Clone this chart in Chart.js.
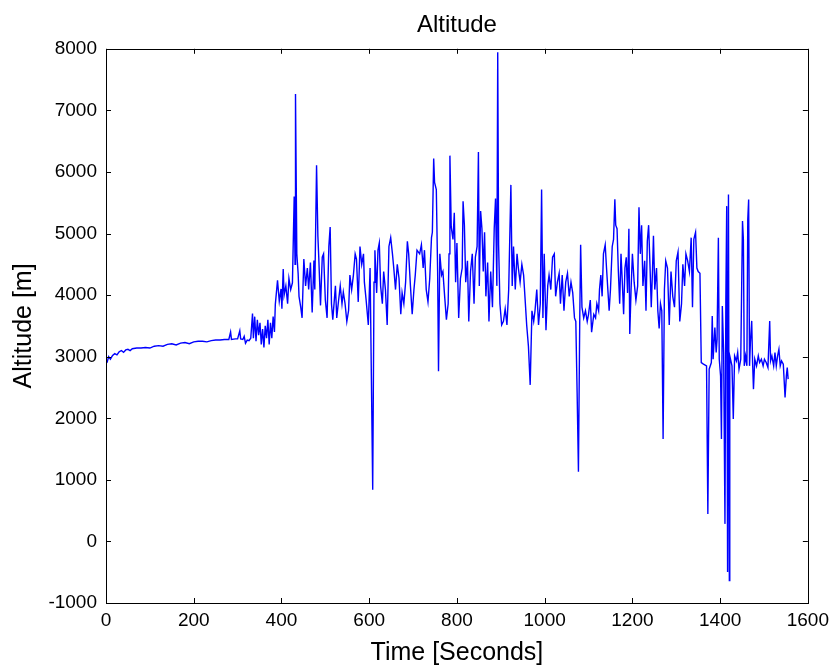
<!DOCTYPE html>
<html lang="en">
  <head>
    <title>Altitude</title>
    <meta charset="utf-8" />
    <script src="https://cdn.jsdelivr.net/npm/chart.js@4.4.9/dist/chart.umd.min.js"></script>
  </head>

  <body style="padding: 0; margin: 0; background: #fff">
    <div style="width: 835px; height: 671px">
      <canvas id="altChart"></canvas>
    </div>

    <script>
      // time stamps [s] and altitude samples [m]
      const times = [
        0, 3, 6, 10, 15, 20, 25, 30, 35, 40, 45, 50, 55, 60, 70, 80, 90, 100, 110, 120,
        130, 140, 150, 160, 170, 180, 190, 200, 210, 220, 230, 240, 250, 260, 270, 280,
        284, 286, 295, 300, 305, 307, 312, 315, 318, 322, 326, 330, 334, 336, 339, 342,
        345, 348, 351, 354, 357, 360, 363, 366, 369, 372, 375, 378, 381, 384, 386,
        391, 395, 399, 401, 404, 406, 410, 414, 417, 421, 425, 429, 431, 432, 435, 438,
        440, 444, 447, 451, 455, 459, 462, 466, 470, 474, 476, 480, 483, 485, 489, 493,
        496, 500, 504, 508, 511, 514, 517, 523, 526, 530, 534, 538, 541, 545, 549, 553,
        556, 560, 564, 568, 571, 575, 579, 583, 587, 589, 593, 598, 602, 605, 608, 611,
        613, 617, 620, 623, 626, 630, 633, 637, 641, 645, 649, 653, 656, 660, 664, 668,
        672, 675, 679, 683, 687, 690, 694, 698, 702, 705, 709,
        715, 719, 723, 726, 730, 734, 738, 742, 744, 747, 749, 753, 756, 758, 761, 765,
        768, 772, 776, 780, 782, 784, 787, 791, 794, 797, 800, 804, 808, 812, 814, 817,
        820, 824, 827, 831, 835, 839, 842, 846, 849, 851, 854, 857, 860, 863, 866, 870,
        873, 877, 881, 885, 888, 891, 893, 895, 898, 902, 906, 910, 914, 918, 923, 926,
        929, 933, 937, 940, 944, 948, 952, 955, 959, 963, 967, 971, 975, 978, 982, 986,
        990, 993, 996, 999, 1003, 1007, 1010, 1014, 1018, 1022, 1025, 1029, 1033, 1036,
        1040, 1044, 1048, 1052, 1056, 1060, 1064, 1068, 1071, 1074, 1077, 1080, 1082,
        1085, 1089, 1093, 1097, 1100, 1104, 1107, 1112, 1116, 1119, 1123,
        1125, 1128, 1131, 1134, 1138, 1141, 1144, 1147, 1150, 1154, 1157, 1160, 1162,
        1165, 1168, 1171, 1174, 1177, 1180, 1183, 1186, 1189, 1192, 1194, 1197, 1200,
        1204, 1208, 1212, 1215, 1218, 1221, 1224, 1228, 1231, 1234, 1237, 1240, 1243,
        1246, 1248, 1251, 1255, 1258, 1261, 1264, 1267, 1270, 1273, 1276, 1280, 1284,
        1288, 1292, 1296, 1300, 1304, 1308, 1312, 1315, 1319, 1322, 1326, 1330, 1334,
        1337, 1340, 1344, 1347, 1350, 1354,
        1357, 1362, 1369, 1372, 1375, 1380, 1382, 1384, 1388, 1391, 1393, 1396, 1398,
        1401, 1403, 1405, 1408, 1411, 1413, 1415, 1417, 1419, 1421, 1422, 1427, 1430,
        1433, 1437, 1440, 1443, 1447, 1451, 1453, 1455, 1458, 1461, 1463, 1465, 1467,
        1469, 1472, 1474, 1476, 1479, 1483, 1487, 1490, 1494, 1498, 1501, 1505, 1509,
        1513, 1515, 1518, 1522, 1525, 1528, 1531, 1534, 1537, 1540, 1544, 1546, 1548,
        1551, 1553, 1555,
      ];
      const altitudes = [
        2950, 2920, 3000, 2960, 3020, 3050, 3030, 3080, 3100, 3070, 3110, 3120, 3100, 3130, 3140, 3140, 3150, 3140, 3170, 3180,
        3170, 3200, 3210, 3190, 3220, 3230, 3210, 3240, 3250, 3250, 3240, 3260, 3270, 3270, 3280, 3280,
        3400, 3280, 3290, 3290, 3420, 3290, 3280, 3330, 3220, 3270, 3260, 3300, 3700, 3300, 3650, 3250,
        3600, 3350, 3550, 3200, 3450, 3150, 3500, 3300, 3600, 3200, 3550, 3300, 3650, 3400, 3850,
        4240, 3900, 4100, 3780, 4424, 4000, 4150, 3860, 4270, 4090, 4200, 5600, 4500, 7266, 4670, 4350,
        3980, 3800, 3630, 4586, 4150, 4440, 4090, 4530, 3718, 4560, 4090, 6108, 4960, 4615, 3833, 4615,
        4670, 3920, 3630, 4790, 5107, 3860, 3600, 4150, 3630, 3900, 4150, 3860, 4050, 3860, 3570, 3750,
        4325, 4090, 4325, 4670, 4586, 3890, 4790, 4500, 4670, 4210, 3920, 3515, 4440, 2646, 840, 4210,
        4730, 4036, 4730, 4846, 4150, 3860, 4383, 4090, 3515, 4790, 4933, 4670, 4440, 4090, 4500, 4270,
        3690, 4036, 3860, 4210, 4875, 4670, 4150, 3690, 4090, 4325, 4730,
        4670, 4817, 4440, 4730, 4090, 3890, 4270, 4933, 5020, 6218, 5830, 5715, 4383, 2762, 4670, 4325,
        4383, 3980, 3600, 3860, 4670, 6265, 5107, 4904, 5338, 4210, 4846, 3630, 4270, 4440, 5523, 5136,
        4210, 4557, 3573, 4383, 4670, 3860, 4615, 4790, 6322, 4150, 5367, 5078, 4383, 5020, 3980, 4528,
        3573, 4383, 3804, 5078, 5570, 4150, 7943, 4817, 3860, 3515, 3573, 3775, 3515, 4090, 5790, 4150,
        4790, 4090, 4670, 4440, 4210, 4500, 4325, 3980, 3515, 3167, 2542, 3746, 3573, 3746, 4090, 3515,
        3860, 5715, 3630, 4670, 3428, 4150, 4325, 4090, 4615, 4670, 3980, 4210, 4354, 3860,
        4325, 3746, 4210, 4354, 3980, 4210, 4036, 3630, 3573, 2415, 1130, 3630, 4817,
        3804, 3630, 3746, 3573, 3688, 3920, 3399, 3688, 3630, 3860, 3746,
        4090, 4325, 3980, 4670, 4817, 4440, 4090, 3746, 4090, 4790, 4904, 5558, 5136,
        5078, 4383, 3860, 4670, 4210, 3688, 4440, 4615, 4036, 5078, 3370, 4090, 4670,
        4210, 3920, 4150, 5425, 4670, 5136, 4150, 4557, 3746, 4875, 5136, 4500, 3804,
        4440, 4962, 4090, 4440, 3746, 3457, 3860, 3746, 1662, 4090, 4557, 4440, 3515,
        4383, 3980, 3804, 4557, 4700, 3573, 3860, 4500, 4150, 4670, 4557, 4383, 4933,
        3804, 4904, 5020, 4440, 4383, 4354,
        2905, 2880, 2851, 447, 2797, 2905, 3662, 2959, 3473, 3067, 3284, 4931, 2959,
        2689, 1663, 3824, 3067, 285, 3878, 5445, -498, 5634, -634, 3013, 2851, 1987,
        3013, 2932, 3067, 2797, 2959, 5202, 4904, 2851, 3013, 2851, 5229, 5553, 2851,
        3230, 3581, 2905, 2473, 2959, 2851, 3013, 2905, 2959, 2851, 2959, 2905, 2824,
        3581, 2932, 3013, 2851, 3067, 2851, 3013, 3121, 2851, 2932, 2878, 2608, 2338,
        2689, 2824, 2635,
      ];
      const xTicks = [0, 200, 400, 600, 800, 1000, 1200, 1400, 1600];
      const yTicks = [-1000, 0, 1000, 2000, 3000, 4000, 5000, 6000, 7000, 8000];

      const fontFamily = "'Liberation Sans', Arial, sans-serif";

      // MATLAB style box with inward ticks on all four sides
      const boxTicksPlugin = {
        id: "box_ticks",
        afterDatasetsDraw(chart) {
          const { ctx, chartArea } = chart;
          const { left, right, top, bottom } = chartArea;
          const len = 5;
          ctx.save();
          ctx.strokeStyle = "#000";
          ctx.lineWidth = 1;
          ctx.beginPath();
          for (const v of xTicks) {
            const x = Math.round(chart.scales.x.getPixelForValue(v)) + 0.5;
            ctx.moveTo(x, bottom);
            ctx.lineTo(x, bottom - len);
            ctx.moveTo(x, top);
            ctx.lineTo(x, top + len);
          }
          for (const v of yTicks) {
            const y = Math.round(chart.scales.y.getPixelForValue(v)) + 0.5;
            ctx.moveTo(left, y);
            ctx.lineTo(left + len, y);
            ctx.moveTo(right, y);
            ctx.lineTo(right - len, y);
          }
          ctx.stroke();
          ctx.strokeRect(
            Math.round(left) + 0.5,
            Math.round(top) + 0.5,
            Math.round(right - left),
            Math.round(bottom - top)
          );
          ctx.restore();
        },
      };

      new Chart(document.getElementById("altChart"), {
        type: "line",
        data: {
          datasets: [
            {
              label: "Altitude",
              data: times.map((t, i) => ({ x: t, y: altitudes[i] })),
              borderColor: "#0000ff",
              borderWidth: 1.4,
              pointRadius: 0,
              tension: 0,
              fill: false,
            },
          ],
        },
        plugins: [boxTicksPlugin],
        options: {
          responsive: true,
          maintainAspectRatio: false,
          animation: false,
          layout: { padding: { left: 0, right: 23, top: 0, bottom: 0 } },
          plugins: {
            legend: { display: false },
            tooltip: { enabled: false },
            title: {
              display: true,
              text: "Altitude",
              fullSize: false,
              color: "#000",
              font: { family: fontFamily, size: 24, weight: "normal", lineHeight: 1.2 },
              padding: { top: 11, bottom: 9 },
            },
          },
          scales: {
            x: {
              type: "linear",
              min: 0,
              max: 1600,
              afterFit(scale) {
                scale.height = 68;
              },
              afterBuildTicks(scale) {
                scale.ticks = xTicks.map((v) => ({ value: v }));
              },
              grid: { display: false, drawTicks: false },
              border: { display: false },
              ticks: {
                color: "#000",
                padding: 6,
                maxRotation: 0,
                font: { family: fontFamily, size: 19 },
                callback: (v) => String(v),
              },
              title: {
                display: true,
                text: "Time [Seconds]",
                color: "#000",
                font: { family: fontFamily, size: 25, lineHeight: 1.2 },
                padding: { top: 0, bottom: 3 },
              },
            },
            y: {
              min: -1000,
              max: 8000,
              afterFit(scale) {
                scale.width = 106;
              },
              afterBuildTicks(scale) {
                scale.ticks = yTicks.map((v) => ({ value: v }));
              },
              grid: { display: false, drawTicks: false },
              border: { display: false },
              ticks: {
                color: "#000",
                padding: 9,
                font: { family: fontFamily, size: 19 },
                callback: (v) => String(v),
              },
              title: {
                display: true,
                text: "Altitude [m]",
                color: "#000",
                font: { family: fontFamily, size: 25, lineHeight: 1.2 },
                padding: { top: 9, bottom: 0 },
              },
            },
          },
        },
      });
    </script>
  </body>
</html>
